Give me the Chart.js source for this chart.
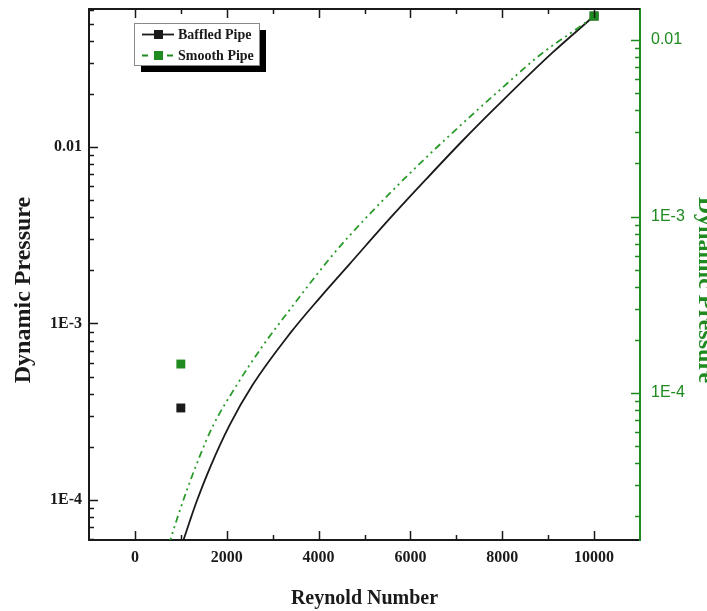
<!DOCTYPE html>
<html>
<head>
<meta charset="utf-8">
<script src="https://cdn.jsdelivr.net/npm/chart.js@4"></script>
<style>
  body { margin: 0; background: #fff; }
  #wrap { width: 707px; height: 611px; }
</style>
</head>
<body>
<div id="wrap"><canvas id="myChart" width="707" height="611"></canvas></div>
<script>
// values
const reynoldsBaffled = [1022, 1196, 1348, 1652, 2065, 2565, 3370, 4022, 4674, 5543, 6348, 7130, 7935, 9087, 10000];
const pressureBaffled = [5.56e-5, 7.6e-5, 9.86e-5, 1.56e-4, 2.66e-4, 4.49e-4, 8.73e-4, 1.393e-3, 2.17e-3, 3.91e-3, 6.59e-3, 0.01081, 0.01754, 0.0341, 0.0552];

const reynoldsSmooth = [739, 935, 1130, 1413, 1696, 2217, 2783, 3370, 4239, 4674, 5696, 6783, 8087, 8870, 9739, 10000];
const pressureSmooth = [1.387e-5, 2.0e-5, 2.81e-5, 4.39e-5, 6.49e-5, 1.109e-4, 1.849e-4, 2.96e-4, 5.77e-4, 7.8e-4, 1.479e-3, 2.77e-3, 5.62e-3, 8.43e-3, 0.01216, 0.01368];

const markerReynolds = [1000, 10000];
const markerBaffled = [3.32e-4, 0.0552];
const markerSmooth = [1.46e-4, 0.01368];

const xTickValues = [0, 2000, 4000, 6000, 8000, 10000];
const decadeValues = [1e-4, 1e-3, 0.01];
const decadeLabels = ['1E-4', '1E-3', '0.01'];

const GREEN = '#1f8a1f';
const DARK = '#1a1a1a';
const serif = '"Liberation Serif", "Times New Roman", serif';
const sans = '"Liberation Sans", Arial, sans-serif';

const pts = (xs, ys) => xs.map((x, i) => ({ x: x, y: ys[i] }));

function decadeLabel(value) {
  const i = decadeValues.findIndex(d => Math.abs(d - value) / d < 1e-6);
  return i >= 0 ? decadeLabels[i] : '';
}

function noPad(s) {
  s.paddingTop = 0; s.paddingBottom = 0; s.paddingLeft = 0; s.paddingRight = 0;
}

function logTicks(scale) {
  const out = [];
  for (let e = Math.floor(Math.log10(scale.min)); e <= Math.ceil(Math.log10(scale.max)); e++) {
    for (let k = 1; k <= 9; k++) {
      const v = k * Math.pow(10, e);
      if (v >= scale.min && v <= scale.max) out.push({ px: scale.getPixelForValue(v), major: k === 1 });
    }
  }
  return out;
}

function rotatedText(ctx, text, x, y, angle, color, baseline) {
  ctx.save();
  ctx.fillStyle = color;
  ctx.font = 'bold 24px ' + serif;
  ctx.textAlign = 'center';
  ctx.textBaseline = baseline;
  ctx.translate(x, y);
  ctx.rotate(angle);
  ctx.fillText(text, 0, 0);
  ctx.restore();
}

// inward tick marks, top frame line, y titles and legend
const frameTicks = {
  id: 'frameTicks',
  afterDraw(chart) {
    const ctx = chart.ctx;
    const a = chart.chartArea;
    const x = chart.scales.x, y = chart.scales.y, y2 = chart.scales.y2;
    ctx.save();

    // top frame
    ctx.strokeStyle = DARK;
    ctx.lineWidth = 2;
    ctx.beginPath(); ctx.moveTo(a.left - 1, a.top); ctx.lineTo(a.right, a.top); ctx.stroke();

    ctx.lineWidth = 1.5;
    ctx.beginPath();
    for (let v = 0; v <= 10000; v += 1000) {
      const px = Math.round(x.getPixelForValue(v)) + 0.5;
      const len = v % 2000 === 0 ? 9 : 5;
      ctx.moveTo(px, a.bottom); ctx.lineTo(px, a.bottom - len);
      ctx.moveTo(px, a.top); ctx.lineTo(px, a.top + len);
    }
    logTicks(y).forEach(t => {
      const py = Math.round(t.px) + 0.5;
      ctx.moveTo(a.left, py); ctx.lineTo(a.left + (t.major ? 9 : 5), py);
    });
    ctx.stroke();

    ctx.strokeStyle = GREEN;
    ctx.beginPath();
    logTicks(y2).forEach(t => {
      const py = Math.round(t.px) + 0.5;
      ctx.moveTo(a.right, py); ctx.lineTo(a.right - (t.major ? 9 : 5), py);
    });
    ctx.stroke();

    rotatedText(ctx, 'Dynamic Pressure', 24, 290, -Math.PI / 2, DARK, 'middle');
    // right one runs off the canvas edge as in the original
    rotatedText(ctx, 'Dynamic Pressure', 699, 290, Math.PI / 2, GREEN, 'alphabetic');

    // legend box with drop shadow
    const bx = 134, by = 23, bw = 125, bh = 42;
    ctx.fillStyle = '#000';
    ctx.fillRect(bx + 7, by + 7, bw, bh);
    ctx.fillStyle = '#fff';
    ctx.fillRect(bx, by, bw, bh);
    ctx.strokeStyle = '#888';
    ctx.lineWidth = 1;
    ctx.strokeRect(bx + 0.5, by + 0.5, bw, bh);

    const rows = [
      { label: chart.data.datasets[3].label, color: DARK, dash: [], y: 34 },
      { label: chart.data.datasets[2].label, color: GREEN, dash: [6, 19], y: 55 }
    ];
    rows.forEach(r => {
      ctx.strokeStyle = r.color;
      ctx.lineWidth = 1.8;
      ctx.setLineDash(r.dash);
      ctx.beginPath(); ctx.moveTo(142, r.y + 0.5); ctx.lineTo(174, r.y + 0.5); ctx.stroke();
      ctx.setLineDash([]);
      ctx.fillStyle = r.color;
      ctx.fillRect(154, r.y - 4, 9, 9);
      ctx.fillStyle = DARK;
      ctx.font = 'bold 14px ' + serif;
      ctx.textAlign = 'left';
      ctx.textBaseline = 'middle';
      ctx.fillText(r.label, 178, r.y + 1);
    });
    ctx.restore();
  }
};

new Chart(document.getElementById('myChart'), {
  type: 'line',
  data: {
    datasets: [
      {
        label: 'Smooth Pipe markers',
        data: pts(markerReynolds, markerSmooth),
        yAxisID: 'y2',
        showLine: false,
        pointStyle: 'rect',
        pointRadius: 6.3,
        backgroundColor: GREEN,
        borderColor: GREEN,
        borderWidth: 0,
        clip: false
      },
      {
        label: 'Baffled Pipe markers',
        data: pts(markerReynolds, markerBaffled),
        yAxisID: 'y',
        showLine: false,
        pointStyle: 'rect',
        pointRadius: 6.3,
        backgroundColor: DARK,
        borderColor: DARK,
        borderWidth: 0,
        clip: false
      },
      {
        label: 'Smooth Pipe',
        data: pts(reynoldsSmooth, pressureSmooth),
        yAxisID: 'y2',
        borderColor: '#2a9a2a',
        borderWidth: 1.8,
        borderDash: [7, 4, 2, 4, 2, 4],
        pointRadius: 0,
        cubicInterpolationMode: 'monotone',
        fill: false
      },
      {
        label: 'Baffled Pipe',
        data: pts(reynoldsBaffled, pressureBaffled),
        yAxisID: 'y',
        borderColor: DARK,
        borderWidth: 1.8,
        pointRadius: 0,
        cubicInterpolationMode: 'monotone',
        fill: false
      }
    ]
  },
  options: {
    responsive: false,
    animation: false,
    layout: { padding: { top: 9 } },
    plugins: {
      legend: { display: false },
      tooltip: { enabled: false }
    },
    scales: {
      x: {
        type: 'linear',
        min: -1000,
        max: 11000,
        afterFit: s => { s.height = 71; noPad(s); },
        grid: { display: false, drawTicks: false },
        border: { display: true, color: DARK, width: 2 },
        ticks: {
          stepSize: 1000,
          autoSkip: false,
          maxRotation: 0,
          padding: 8,
          color: DARK,
          font: { family: serif, size: 16, weight: 'bold' },
          callback: v => xTickValues.includes(v) ? String(v) : ''
        },
        title: {
          display: true,
          text: 'Reynold Number',
          color: DARK,
          padding: { top: 0, bottom: 0 },
          font: { family: serif, size: 20, weight: 'bold' }
        }
      },
      y: {
        type: 'logarithmic',
        position: 'left',
        min: 5.93e-5,
        max: 0.0605,
        bounds: 'data',
        afterFit: s => { s.width = 89; noPad(s); },
        grid: { display: false, drawTicks: false },
        border: { display: true, color: DARK, width: 2 },
        ticks: {
          autoSkip: false,
          padding: 7,
          color: DARK,
          font: { family: serif, size: 16, weight: 'bold' },
          callback: decadeLabel
        }
      },
      y2: {
        type: 'logarithmic',
        position: 'right',
        min: 1.47e-5,
        max: 0.0150,
        bounds: 'data',
        afterFit: s => { s.width = 67; noPad(s); },
        grid: { display: false, drawTicks: false },
        border: { display: true, color: GREEN, width: 2 },
        ticks: {
          autoSkip: false,
          padding: 11,
          color: GREEN,
          font: { family: sans, size: 16 },
          callback: decadeLabel
        }
      }
    }
  },
  plugins: [frameTicks]
});
</script>
</body>
</html>
